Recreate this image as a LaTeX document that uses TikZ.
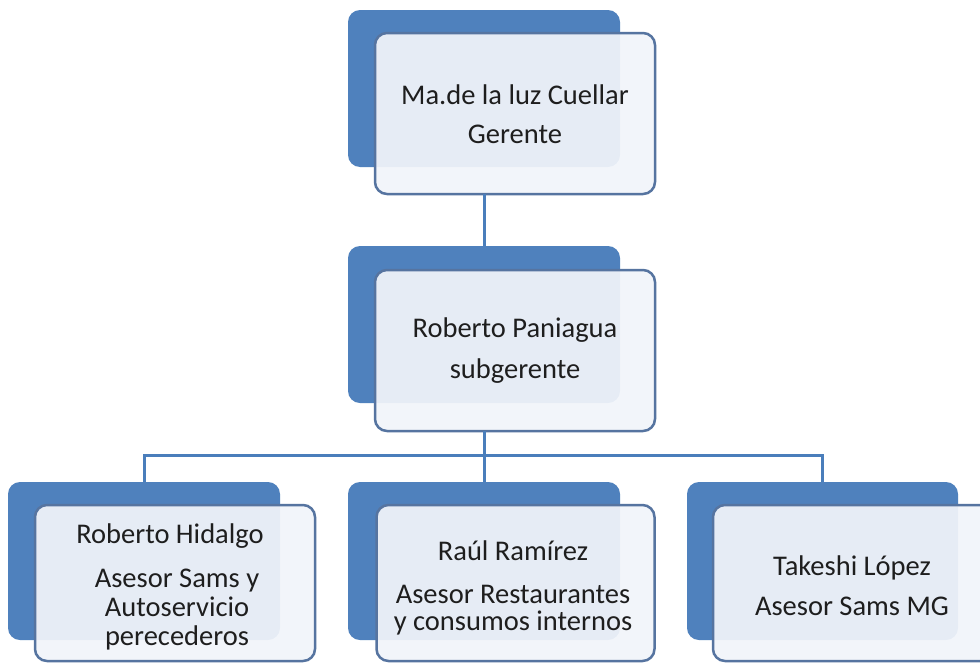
\documentclass[tikz,border=0pt]{standalone}
\usepackage{fontspec}
\setmainfont{Carlito}
\usetikzlibrary{calc}
\definecolor{backblue}{RGB}{79,129,189}
\definecolor{frontedge}{RGB}{86,116,160}
\definecolor{frontfill}{RGB}{242,245,250}
\definecolor{linkblue}{RGB}{74,126,187}
\definecolor{txtgray}{RGB}{30,30,30}
\begin{document}
\begin{tikzpicture}[x=1pt,y=-1pt,
  backbox/.style={rectangle, fill=backblue, rounded corners=12pt, inner sep=0pt, outer sep=0pt,
                  minimum width=272pt, minimum height=157pt},
  frontbox/.style={rectangle, draw=frontedge, line width=2.5pt, fill=frontfill, fill opacity=0.93,
                  draw opacity=1, rounded corners=12pt, inner sep=0pt, outer sep=0pt,
                  minimum width=280pt, minimum height=160pt},
  txtline/.style={anchor=base, inner sep=0pt, text=txtgray, text opacity=1,
                  font=\fontsize{28.5}{34}\selectfont},
  link/.style={draw=linkblue, line width=3pt}]
\useasboundingbox (0,0) rectangle (980,664);
\clip (0,0) rectangle (980,664);
\fill[white] (0,0) rectangle (980,664);

% top
\node[backbox] (topback) at (484,88.5) {};
\node[frontbox, minimum height=161pt] (topfront) at (515,113.5) {};
\node[txtline] (toptA) at (515,104) {Ma.de la luz Cuellar};
\node[txtline] (toptB) at (515,143) {Gerente};

% middle
\node[backbox] (midback) at (484,324.5) {};
\node[frontbox, minimum height=161pt] (midfront) at (515,350.5) {};
\node[txtline] (midtA) at (515,337) {Roberto Paniagua};
\node[txtline] (midtB) at (515,378) {subgerente};

% bottom boxes
\node[backbox, minimum height=158pt] (bAback) at (144,561) {};
\node[frontbox, minimum height=156pt] (bAfront) at (175,583) {};
\node[txtline] (bAtA) at (170,543) {Roberto Hidalgo};
\node[txtline] (bAtB) at (177,587) {Asesor Sams y};
\node[txtline] (bAtC) at (177,616) {Autoservicio};
\node[txtline] (bAtD) at (177,645) {perecederos};

\node[backbox, minimum height=158pt] (bBback) at (484,561) {};
\node[frontbox, minimum height=156pt, minimum width=278pt] (bBfront) at (515.5,583) {};
\node[txtline] (bBtA) at (513,560) {Raúl Ramírez};
\node[txtline] (bBtB) at (513,603) {Asesor Restaurantes};
\node[txtline] (bBtC) at (513,630) {y consumos internos};

\node[backbox, minimum height=158pt, minimum width=271pt] (bCback) at (822.5,561) {};
\node[frontbox, minimum height=156pt] (bCfront) at (853,583) {};
\node[txtline] (bCtA) at (852,575) {Takeshi López};
\node[txtline] (bCtB) at (852,615) {Asesor Sams MG};

% connectors
\coordinate (bus) at (484,455);
\draw[link] (topfront.south -| topback.center) -- (midback.north);
\draw[link] (midfront.south -| midback.center) -- (bus);
\draw[link] (bAback.north) |- (bus) -| (bCback.north);
\draw[link] (bus) -- (bBback.north);
\end{tikzpicture}
\end{document}
